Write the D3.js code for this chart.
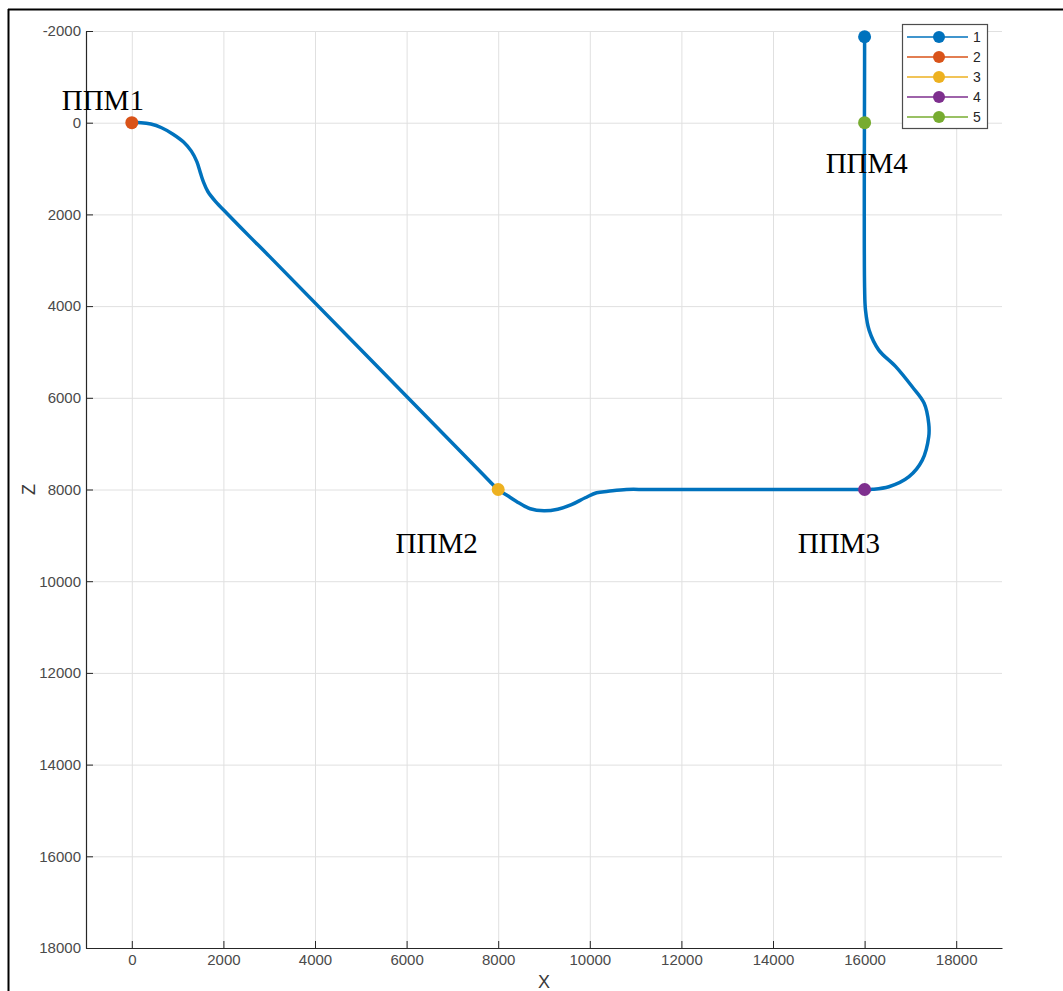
<!DOCTYPE html>
<html>
<head>
<meta charset="utf-8">
<script src="https://cdn.jsdelivr.net/npm/d3@7"></script>
<style>
  html, body { margin: 0; padding: 0; background: #ffffff; }
  svg { display: block; }
</style>
</head>
<body>
<script>
// Trajectory in the X–Z plane (metres)
const pathX = [0, 200, 415, 650, 900, 1130, 1300, 1420, 1500, 1560, 1660, 1830, 2090, 2580, 3000, 7600, 8000,
  8200, 8400, 8700, 9000, 9300, 9600, 9900, 10150, 10400, 10800, 11300, 15600, 16000,
  16170, 16530, 16970, 17260, 17400, 17400, 17300, 17040, 16680, 16310, 16100, 16020, 16000, 16000, 16000];
const pathZ = [0, 0, 30, 110, 250, 420, 620, 850, 1100, 1280, 1500, 1720, 1990, 2490, 2910, 7600, 8000,
  8130, 8260, 8420, 8465, 8430, 8330, 8180, 8070, 8040, 8000, 8000, 8000, 8000,
  7996, 7940, 7720, 7360, 6850, 6560, 6120, 5760, 5320, 4960, 4530, 4090, 3600, -1500, -1875];

// Marked points: series 1 ends at the trajectory end, 2–5 are the waypoints
const seriesNames = ["1", "2", "3", "4", "5"];
const seriesColors = ["#0072BD", "#D95319", "#EDB120", "#7E2F8E", "#77AC30"];
const markerX = [16000, 0, 8000, 16000, 16000];
const markerZ = [-1875, 0, 8000, 8000, 0];

// Waypoint captions (anchored at their text start / baseline, in data units)
const captionText = ["ППМ1", "ППМ2", "ППМ3", "ППМ4"];
const captionX = [-1530, 5760, 14540, 15150];
const captionZ = [-280, 9385, 9385, 1100];

// Axis ticks
const xTicks = d3.range(0, 18001, 2000);
const zTicks = d3.range(-2000, 18001, 2000);

const W = 1063, H = 991;
const svg = d3.select("body").append("svg").attr("width", W).attr("height", H);
svg.append("rect").attr("width", W).attr("height", H).attr("fill", "#ffffff");

// figure frame
svg.append("line").attr("x1", 8.5).attr("x2", 8.5).attr("y1", 9).attr("y2", H).attr("stroke", "#000").attr("stroke-width", 2);
svg.append("line").attr("x1", 8).attr("x2", W).attr("y1", 9.5).attr("y2", 9.5).attr("stroke", "#000").attr("stroke-width", 2);

const x = d3.scaleLinear().domain([-1000, 19000]).range([86, 1002]);
const z = d3.scaleLinear().domain([-2000, 18000]).range([31, 948]);

const fontAxis = "'Liberation Sans', Arial, Helvetica, sans-serif";
const axisColor = "#262626";

// grid
const grid = svg.append("g");
grid.selectAll(".gx").data(xTicks).join("line")
  .attr("x1", d => x(d) + 0.5).attr("x2", d => x(d) + 0.5)
  .attr("y1", z.range()[0]).attr("y2", z.range()[1])
  .attr("stroke", "#e0e0e0").attr("stroke-width", 1);
grid.selectAll(".gz").data(zTicks).join("line")
  .attr("x1", x.range()[0]).attr("x2", x.range()[1])
  .attr("y1", d => z(d) + 0.5).attr("y2", d => z(d) + 0.5)
  .attr("stroke", "#e0e0e0").attr("stroke-width", 1);

// axes
const fmt = d => String(d);
const gx = svg.append("g").attr("transform", `translate(0,${z.range()[1]})`)
  .call(d3.axisBottom(x).tickValues(xTicks).tickFormat(fmt).tickSizeInner(-7).tickSizeOuter(0).tickPadding(6));
const gz = svg.append("g").attr("transform", `translate(${x.range()[0]},0)`)
  .call(d3.axisLeft(z).tickValues(zTicks).tickFormat(fmt).tickSizeInner(-7).tickSizeOuter(0).tickPadding(5));
[gx, gz].forEach(g => {
  g.select(".domain").attr("stroke", axisColor).attr("stroke-width", 1.2);
  g.selectAll(".tick line").attr("stroke", axisColor).attr("stroke-width", 1);
  g.selectAll(".tick text").attr("fill", "#4a4a4a").attr("font-family", fontAxis).attr("font-size", 15);
});

// axis titles
svg.append("text").attr("x", (x.range()[0] + x.range()[1]) / 2).attr("y", 988)
  .attr("text-anchor", "middle").attr("font-family", fontAxis).attr("font-size", 18).attr("fill", "#3a3a3a").text("X");
svg.append("text").attr("transform", `translate(35,${(z.range()[0] + z.range()[1]) / 2}) rotate(-90)`)
  .attr("text-anchor", "middle").attr("font-family", fontAxis).attr("font-size", 18).attr("fill", "#3a3a3a").text("Z");

// trajectory
const pts = pathX.map((d, i) => [d, pathZ[i]]);
const lineSmooth = d3.line().x(d => x(d[0])).y(d => z(d[1])).curve(d3.curveCatmullRom.alpha(0.5));
svg.append("path").datum(pts).attr("d", lineSmooth)
  .attr("fill", "none").attr("stroke", seriesColors[0]).attr("stroke-width", 3.5)
  .attr("stroke-linejoin", "round");

// markers
svg.selectAll(".mk").data(seriesNames).join("circle")
  .attr("cx", (d, i) => x(markerX[i])).attr("cy", (d, i) => z(markerZ[i]))
  .attr("r", 6.5).attr("fill", (d, i) => seriesColors[i]);

// captions
svg.selectAll(".cap").data(captionText).join("text")
  .attr("x", (d, i) => x(captionX[i])).attr("y", (d, i) => z(captionZ[i]))
  .attr("font-family", "'Liberation Serif', 'Times New Roman', serif").attr("font-size", 29)
  .attr("fill", "#000").text(d => d);

// legend
const lg = svg.append("g");
lg.append("rect").attr("x", 902.5).attr("y", 24.5).attr("width", 85).attr("height", 104)
  .attr("fill", "#fff").attr("stroke", "#4d4d4d").attr("stroke-width", 1.2);
const rows = lg.selectAll(".row").data(seriesNames).join("g")
  .attr("transform", (d, i) => `translate(0,${37 + i * 20})`);
rows.append("line").attr("x1", 907).attr("x2", 968).attr("y1", 0).attr("y2", 0)
  .attr("stroke", (d, i) => seriesColors[i]).attr("stroke-width", 1.3);
rows.append("circle").attr("cx", 939).attr("cy", 0).attr("r", 6)
  .attr("fill", (d, i) => seriesColors[i]);
rows.append("text").attr("x", 973).attr("y", 5).attr("font-family", fontAxis).attr("font-size", 14)
  .attr("fill", "#262626").text(d => d);
</script>
</body>
</html>
